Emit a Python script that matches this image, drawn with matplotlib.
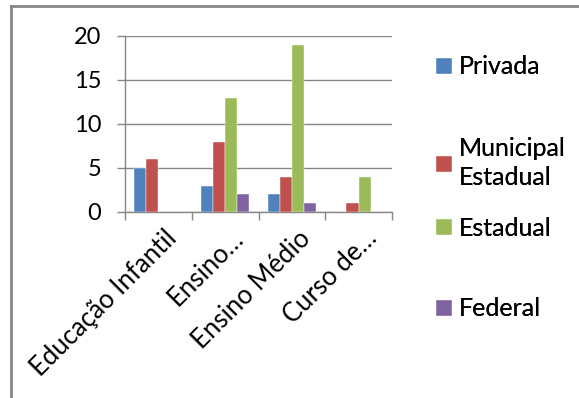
import matplotlib
matplotlib.use("Agg")
import matplotlib.pyplot as plt
import matplotlib.transforms as mtransforms
import numpy as np
from matplotlib.lines import Line2D

categories = ["Educação Infantil", "Ensino…", "Ensino Médio", "Curso de…"]
series_names = ["Privada", "Municipal\nEstadual", "Estadual", "Federal"]
privada = [5, 3, 2, 0]
municipal = [6, 8, 4, 1]
estadual = [0, 13, 19, 4]
federal = [0, 2, 1, 0]
colors = ["#4F81BD", "#C0504D", "#9BBB59", "#8064A2"]
yticks = [0, 5, 10, 15, 20]

plt.rcParams['font.family'] = ['Lato', 'DejaVu Sans']
fig = plt.figure(figsize=(5.79, 3.98), dpi=100)
ax = fig.add_axes([125/579, 1-212/398, (392-125)/579, (212-36)/398])

data = [privada, municipal, estadual, federal]
n = len(data)
x = np.arange(len(categories))
bw = 1/(n+1.5)
bars = []
for i, (vals, c, name) in enumerate(zip(data, colors, series_names)):
    b = ax.bar(x - bw*n/2 + bw*(i+0.5), vals, width=bw, color=c, label=name, zorder=3,
               edgecolor='white', linewidth=0.3)
    bars.append(b)

ax.set_xlim(-0.5, len(categories)-0.5)
ax.set_ylim(0, 20)
ax.set_yticks(yticks)
ax.set_xticks(np.arange(len(categories)+1)-0.5, minor=True)
ax.set_xticks(x)
ax.set_xticklabels(categories, rotation=45, ha='right', rotation_mode='anchor', fontsize=18.5)
ax.tick_params(axis='x', which='major', length=0, pad=12)
ax.tick_params(axis='x', which='minor', length=6, color='#868686', width=1)
ax.tick_params(axis='y', length=6, color='#868686', width=1, pad=11, labelsize=17)
offset = mtransforms.ScaledTranslation(4/72, 2/72, fig.dpi_scale_trans)
for lbl in ax.get_xticklabels():
    lbl.set_transform(lbl.get_transform() + offset)
ax.yaxis.grid(True, color='#868686', linewidth=1, zorder=0)
for s in ['top', 'right']:
    ax.spines[s].set_visible(False)
for s in ['left', 'bottom']:
    ax.spines[s].set_color('#868686')
    ax.spines[s].set_linewidth(1)

# legend entries placed individually
ypos = [67, 163, 228, 309]
for b, name, yp in zip(bars, series_names, ypos):
    lg = fig.legend([b], [name], loc='center left', bbox_to_anchor=(436/579, 1-yp/398),
                    frameon=False, fontsize=18, handlelength=0.62, handleheight=0.62,
                    handletextpad=0.3, borderaxespad=0, borderpad=0)
    for t in lg.get_texts():
        t.set_linespacing(1.3)
    fig.add_artist(lg)

# outer frame (partial)
fig.add_artist(Line2D([11/579, 1], [1-6/398, 1-6/398], color='#878787', linewidth=2, transform=fig.transFigure))
fig.add_artist(Line2D([11/579, 11/579], [0, 1-6/398], color='#878787', linewidth=2, transform=fig.transFigure))

fig.savefig("out.png", dpi=100)
